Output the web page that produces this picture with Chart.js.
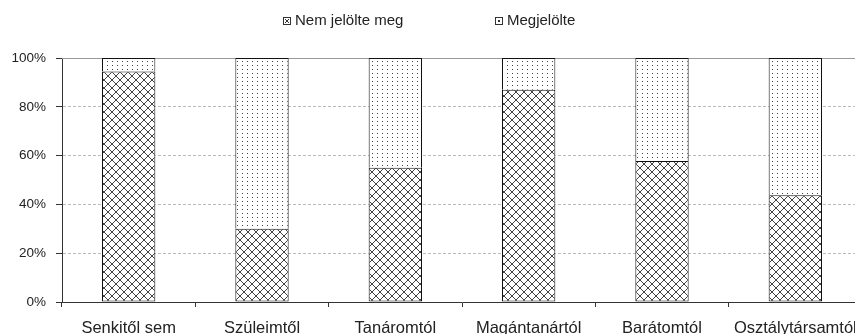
<!DOCTYPE html>
<html>
<head>
<meta charset="utf-8">
<script src="https://cdn.jsdelivr.net/npm/chart.js@4/dist/chart.umd.min.js"></script>
<style>
html,body{margin:0;padding:0;background:#fff;overflow:hidden;width:855px;height:334px;}
#wrap{width:862px;height:334px;}
</style>
</head>
<body>
<div id="wrap"><canvas id="c" width="862" height="334"></canvas></div>
<script>
const categories = ['Senkitől sem','Szüleimtől','Tanáromtól','Magántanártól','Barátomtól','Osztálytársamtól'];
const seriesNames = ['Nem jelölte meg','Megjelölte'];
const nemJelolteMeg = [94.5, 30, 55, 87, 57.8, 43.8];
const megjelolte = [5.5, 70, 45, 13, 42.2, 56.2];
const yTicks = [0, 20, 40, 60, 80, 100];

function crossPattern(){
  const c = document.createElement('canvas'); c.width = 8; c.height = 8;
  const g = c.getContext('2d');
  g.fillStyle = '#fff'; g.fillRect(0,0,8,8);
  g.strokeStyle = '#444'; g.lineWidth = 1;
  g.beginPath();
  g.moveTo(-1,-1); g.lineTo(9,9);
  g.moveTo(-1,9); g.lineTo(9,-1);
  g.stroke();
  return g.createPattern(c,'repeat');
}
function dotPattern(){
  const c = document.createElement('canvas'); c.width = 5; c.height = 4;
  const g = c.getContext('2d');
  g.fillStyle = '#fff'; g.fillRect(0,0,5,4);
  g.fillStyle = '#444'; g.fillRect(2,1,1,1);
  return g.createPattern(c,'repeat');
}
const pCross = crossPattern();
const pDots = dotPattern();

const TOP = 58, BOTTOM = 302, LEFT = 62, H = 334;

const legendPlugin = {
  id: 'customLegend',
  afterDraw(chart){
    const ctx = chart.ctx;
    ctx.save();
    ctx.font = '15px "Liberation Sans", Arial, sans-serif';
    ctx.textBaseline = 'middle';
    const items = [{x:283, name:seriesNames[0], type:'x'}, {x:495, name:seriesNames[1], type:'d'}];
    const cy = 21;
    items.forEach(it => {
      const bx = it.x + 0.5, by = Math.round(cy - 4) + 0.5;
      ctx.fillStyle = '#fff'; ctx.fillRect(bx, by, 7, 7);
      ctx.strokeStyle = '#333'; ctx.lineWidth = 1;
      ctx.strokeRect(bx, by, 7, 7);
      ctx.beginPath();
      if (it.type === 'x') {
        ctx.moveTo(bx+1.5, by+1.5); ctx.lineTo(bx+5.5, by+5.5);
        ctx.moveTo(bx+5.5, by+1.5); ctx.lineTo(bx+1.5, by+5.5);
        ctx.stroke();
      } else {
        ctx.fillStyle = '#333'; ctx.fillRect(bx+2.5, by+2.5, 2, 2);
      }
      ctx.fillStyle = '#222';
      ctx.fillText(it.name, it.x + 12, cy);
    });
    ctx.restore();
  }
};

const topLinePlugin = {
  id: 'topLine',
  beforeDatasetsDraw(chart){
    const ctx = chart.ctx, a = chart.chartArea;
    const y = chart.scales.y.getPixelForValue(100);
    ctx.save();
    ctx.strokeStyle = '#9a9a9a'; ctx.lineWidth = 1;
    ctx.beginPath(); ctx.moveTo(a.left, Math.round(y)+0.5); ctx.lineTo(a.right, Math.round(y)+0.5); ctx.stroke();
    ctx.restore();
  }
};

new Chart(document.getElementById('c'), {
  type: 'bar',
  data: {
    labels: categories,
    datasets: [
      {label: seriesNames[0], data: nemJelolteMeg, backgroundColor: pCross, borderColor: '#111', borderWidth: 1, borderSkipped: false},
      {label: seriesNames[1], data: megjelolte, backgroundColor: pDots, borderColor: '#111', borderWidth: 1, borderSkipped: 'bottom'}
    ]
  },
  options: {
    responsive: false,
    animation: false,
    devicePixelRatio: 1,
    layout: {padding: {top: TOP, left: 0, right: 0, bottom: 0}},
    datasets: {bar: {categoryPercentage: 0.8, barPercentage: 0.5}},
    plugins: {legend: {display: false}, tooltip: {enabled: false}},
    scales: {
      x: {
        stacked: true,
        afterFit(s){ s.height = H - BOTTOM; s.paddingLeft = 0; s.paddingRight = 0; },
        grid: {offset: true, drawOnChartArea: false, tickLength: 5, tickColor: '#333', color: '#333'},
        border: {color: '#333', width: 1},
        ticks: {color: '#222', padding: 12, maxRotation: 0, autoSkip: false, font: {family: '"Liberation Sans", Arial, sans-serif', size: 16.5}}
      },
      y: {
        stacked: true,
        min: 0, max: 100,
        afterFit(s){ s.width = LEFT; s.paddingTop = 0; s.paddingBottom = 0; },
        afterBuildTicks(s){ s.ticks = yTicks.map(v => ({value: v})); },
        grid: {color: (c) => c.tick && c.tick.value === 100 ? 'rgba(0,0,0,0)' : '#bbbbbb', tickColor: '#333', tickLength: 6, tickBorderDash: []},
        border: {color: '#333', width: 1, dash: [3, 2]},
        ticks: {color: '#222', padding: 10, callback: v => v + '%', font: {family: '"Liberation Sans", Arial, sans-serif', size: 13.5}}
      }
    }
  },
  plugins: [topLinePlugin, legendPlugin]
});
</script>
</body>
</html>
